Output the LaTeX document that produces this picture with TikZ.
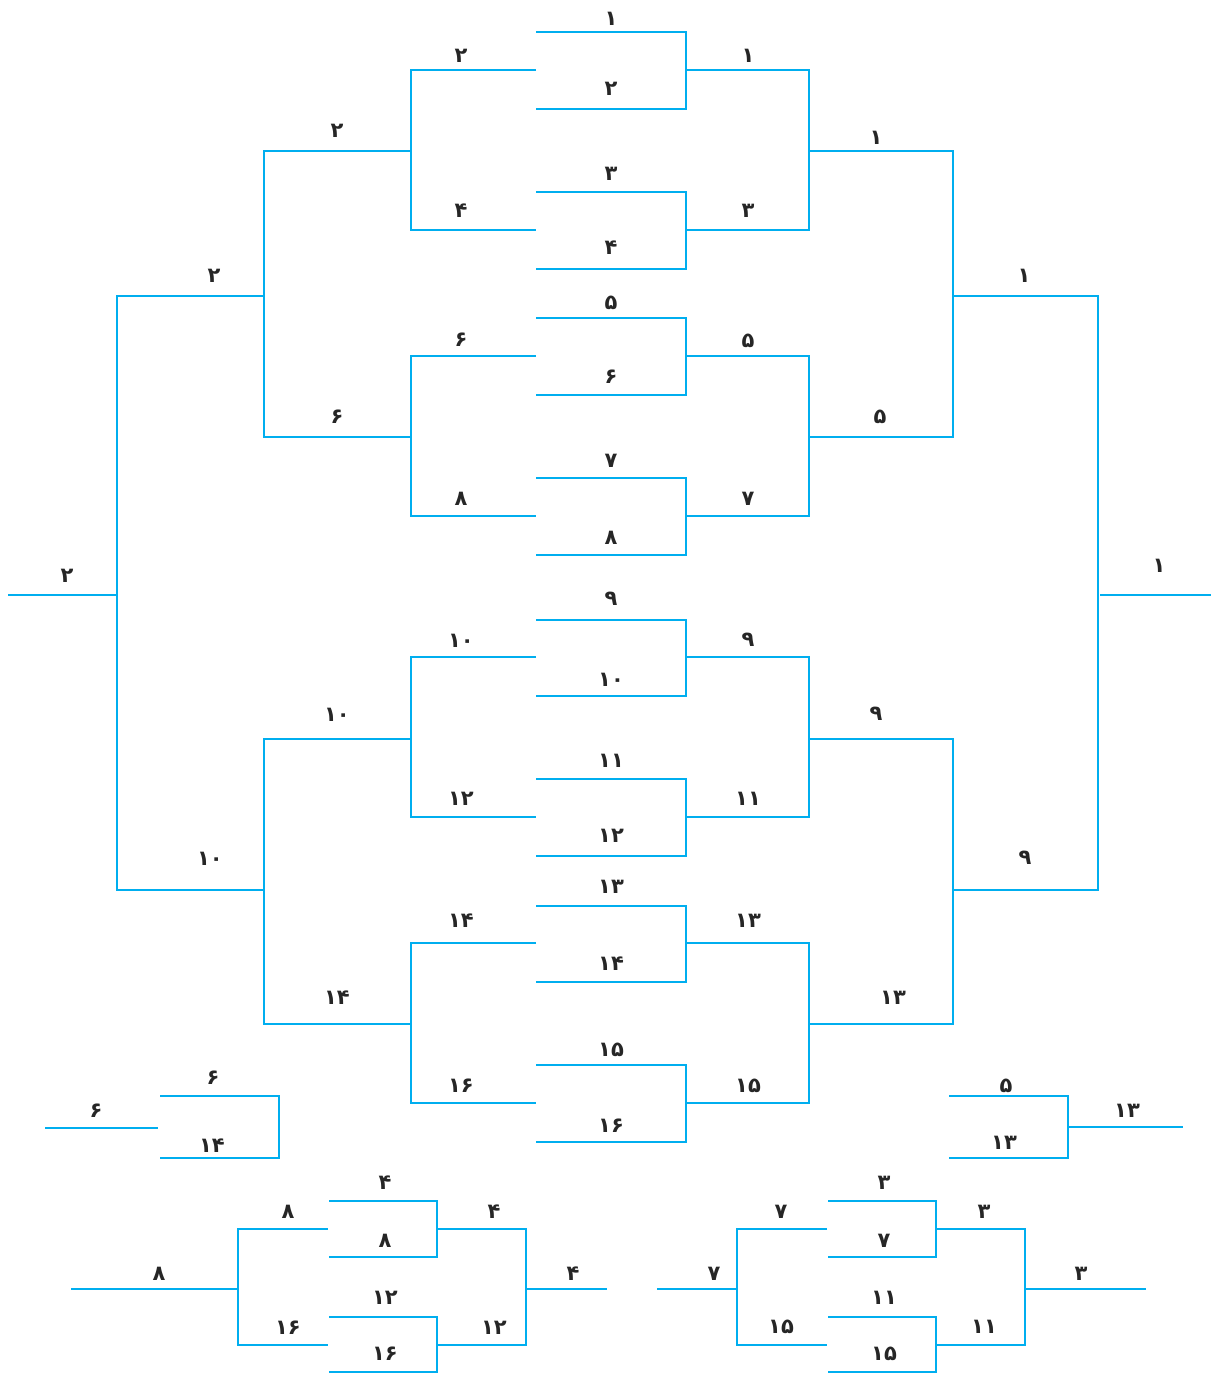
\documentclass[tikz,border=0pt]{standalone}
\usepackage{fontspec}
\newfontfamily\fa[Script=Arabic]{DejaVu Sans}
\definecolor{bracketblue}{RGB}{0,174,239}
\tikzset{
  bl/.style={draw=bracketblue, line width=2.4pt},
  lab/.style={font=\fa\bfseries\fontsize{21}{21}\selectfont, text=black!85, inner sep=0pt, text height=15pt, text depth=0pt, anchor=center}
}
\begin{document}
\begin{tikzpicture}[x=1pt,y=-1pt]
\useasboundingbox (0,0) rectangle (1211,1373);
% ---- main bracket: centre pairs
\foreach \a/\b in {32/109,192/269,318/395,478/555,620/696,779/856,906/982,1065/1142}
  \draw[bl] (536,\a) -| (686,\b) -- (536,\b);
% left side
\foreach \a/\b in {70/230,356/516,657/817,943/1103}
  \draw[bl] (536,\a) -| (411,\b) -- (536,\b);
\foreach \a/\b in {151/437,739/1024}
  \draw[bl] (411,\a) -| (264,\b) -- (411,\b);
\draw[bl] (264,296) -| (117,890) -- (264,890);
\draw[bl] (8,595) -- (117,595);
% right side
\foreach \a/\b in {70/230,356/516,657/817,943/1103}
  \draw[bl] (686,\a) -| (809,\b) -- (686,\b);
\foreach \a/\b in {151/437,739/1024}
  \draw[bl] (809,\a) -| (953,\b) -- (809,\b);
\draw[bl] (953,296) -| (1098,890) -- (953,890);
\draw[bl] (1100,595) -- (1211,595);
% ---- small bracket lower left
\draw[bl] (45,1128) -- (158,1128);
\draw[bl] (160,1096) -| (279,1158) -- (160,1158);
% ---- small bracket lower right
\draw[bl] (949,1096) -| (1068,1158) -- (949,1158);
\draw[bl] (1068,1127) -- (1183,1127);
% ---- bottom left group
\draw[bl] (71,1289) -- (238,1289);
\draw[bl] (328,1229) -| (238,1345) -- (328,1345);
\draw[bl] (329,1201) -| (437,1257) -- (329,1257);
\draw[bl] (329,1317) -| (437,1372) -- (329,1372);
\draw[bl] (437,1229) -| (526,1345) -- (437,1345);
\draw[bl] (526,1289) -- (607,1289);
% ---- bottom right group
\draw[bl] (657,1289) -- (737,1289);
\draw[bl] (827,1229) -| (737,1345) -- (827,1345);
\draw[bl] (828,1201) -| (936,1257) -- (828,1257);
\draw[bl] (828,1317) -| (936,1372) -- (828,1372);
\draw[bl] (936,1229) -| (1025,1345) -- (936,1345);
\draw[bl] (1025,1289) -- (1146,1289);
% ---- labels
\foreach \x/\y/\t [count=\i] in {
  611/18/۱, 611/88/۲, 611/173/۳, 611/247/۴, 611/302/۵, 611/376/۶, 611/460/۷, 611/537/۸,
  611/598/۹, 611/679/۱۰, 611/760/۱۱, 611/835/۱۲, 611/886/۱۳, 611/963/۱۴, 611/1049/۱۵, 611/1125/۱۶,
  461/55/۲, 461/210/۴, 461/339/۶, 461/498/۸, 461/640/۱۰, 461/798/۱۲, 461/920/۱۴, 461/1085/۱۶,
  337/130/۲, 337/416/۶, 337/714/۱۰, 337/997/۱۴,
  214/275/۲, 210/858/۱۰, 67/575/۲,
  748/55/۱, 748/210/۳, 748/340/۵, 748/498/۷, 748/639/۹, 748/798/۱۱, 748/920/۱۳, 748/1085/۱۵,
  876/137/۱, 880/416/۵, 876/713/۹, 893/997/۱۳,
  1024/275/۱, 1025/857/۹, 1159/565/۱,
  96/1110/۶, 213/1077/۶, 212/1145/۱۴,
  1006/1085/۵, 1004/1142/۱۳, 1127/1110/۱۳,
  159/1273/۸, 288/1211/۸, 288/1327/۱۶, 385/1182/۴, 385/1240/۸, 385/1297/۱۲, 385/1353/۱۶,
  494/1211/۴, 494/1327/۱۲, 573/1273/۴,
  714/1273/۷, 781/1211/۷, 781/1326/۱۵, 884/1182/۳, 884/1240/۷, 884/1297/۱۱, 884/1353/۱۵,
  984/1211/۳, 984/1326/۱۱, 1081/1273/۳}
  \node[lab] (l\i) at (\x,\y) {\t};
\end{tikzpicture}
\end{document}
